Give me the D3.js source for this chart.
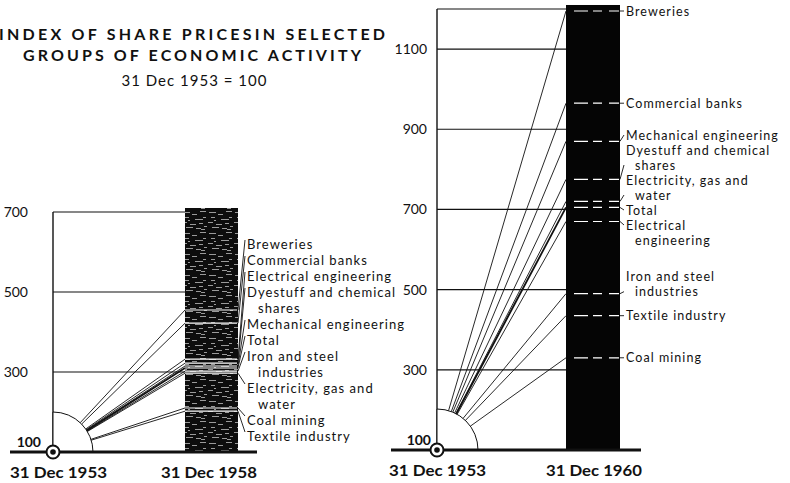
<!DOCTYPE html>
<html>
<head>
<meta charset="utf-8">
<script src="https://cdn.jsdelivr.net/npm/d3@7"></script>
<style>
  body { margin: 0; background: #fff; }
  svg text { font-family: Lato, "DejaVu Sans", sans-serif; fill: #111; }
</style>
</head>
<body>
<svg id="chart" width="790" height="483"></svg>
<script>
// index values, 31 Dec 1953 = 100
const categories = ["Breweries", "Commercial banks", "Electrical engineering",
  "Dyestuff and chemical shares", "Mechanical engineering", "Total",
  "Iron and steel industries", "Electricity, gas and water", "Coal mining", "Textile industry"];
const values1958 = [455, 422, 332, 322, 315, 310, 302, 297, 210, 202];
const values1960 = [1195, 965, 670, 775, 870, 705, 490, 720, 330, 435];

// how the labels are broken into lines in each panel
const labels1958 = [["Breweries"], ["Commercial banks"], ["Electrical engineering"],
  ["Dyestuff and chemical", "shares"], ["Mechanical engineering"], ["Total"],
  ["Iron and steel", "industries"], ["Electricity, gas and", "water"], ["Coal mining"], ["Textile industry"]];
const labels1960 = [["Breweries"], ["Commercial banks"], ["Electrical", "engineering"],
  ["Dyestuff and chemical", "shares"], ["Mechanical engineering"], ["Total"],
  ["Iron and steel", "industries"], ["Electricity, gas and", "water"], ["Coal mining"], ["Textile industry"]];

const grid1958 = [300, 500, 700];
const grid1960 = [300, 500, 700, 900, 1100, 1200];
const tickLabels1958 = ["300", "500", "700"];
const tickLabels1960 = ["300", "500", "700", "900", "1100", ""];

const svg = d3.select("#chart");
const defs = svg.append("defs");

// speckled halftone look of the 1958 bar
let pat = defs.append("pattern").attr("id", "speckle")
  .attr("patternUnits", "userSpaceOnUse").attr("width", 26).attr("height", 21);
pat.append("rect").attr("width", 26).attr("height", 21).attr("fill", "#0d0d0d");
[[1,2,7],[10,4,5],[18,1,6],[3,7,4],[13,9,8],[21,7,3],[0,12,5],[8,14,6],
 [17,13,4],[4,17,7],[14,18,5],[22,16,3],[6,10,2],[19,19,4]].forEach(s => {
  pat.append("line").attr("x1", s[0]).attr("x2", s[0] + s[2])
    .attr("y1", s[1] + 0.5).attr("y2", s[1] + 0.5)
    .attr("stroke", "#9a9a9a").attr("stroke-width", 1);
});

function panel(o) {
  const x = d3.scaleLinear().domain([1953, o.year]).range([o.axisX, o.barX]);
  const y = d3.scaleLinear().domain([100, o.topVal]).range([o.baseY, o.topY]);
  const g = svg.append("g");
  const ox = x(1953), oy = y(100);

  // gridlines
  g.selectAll(".grid").data(o.grid).join("line")
    .attr("x1", ox).attr("x2", x(o.year))
    .attr("y1", d => y(d)).attr("y2", d => y(d))
    .attr("stroke", "#111").attr("stroke-width", 1.2);
  // vertical axis
  g.append("line").attr("x1", ox).attr("x2", ox)
    .attr("y1", oy).attr("y2", y(d3.max(o.grid)))
    .attr("stroke", "#111").attr("stroke-width", 1.4);
  // tick labels
  g.selectAll(".tick").data(o.grid).join("text")
    .attr("x", o.tickX).attr("y", d => y(d) + 5)
    .attr("text-anchor", "end").attr("font-size", 14)
    .text((d, i) => o.tickLabels[i]);
  g.append("text").attr("x", o.hundredX).attr("y", oy - 5)
    .attr("text-anchor", "end").attr("font-size", 14).attr("font-weight", "bold")
    .text("100");

  // the bar
  g.append("rect").attr("x", x(o.year)).attr("width", o.barW)
    .attr("y", y(o.barTop)).attr("height", oy - y(o.barTop))
    .attr("fill", o.fill);
  // level marks inside the bar
  g.selectAll(".lvl").data(o.values).join("line")
    .attr("x1", x(o.year) + o.markInset).attr("x2", x(o.year) + o.barW - 1)
    .attr("y1", d => y(d)).attr("y2", d => y(d))
    .attr("stroke", "#fff").attr("stroke-width", 1.2)
    .attr("stroke-dasharray", o.markDash);

  // quarter circle round the origin
  const arc = d3.arc()({ innerRadius: 0, outerRadius: o.r, startAngle: 0, endAngle: Math.PI / 2 });
  g.append("path").attr("d", arc).attr("transform", `translate(${ox},${oy})`)
    .attr("fill", "#fff").attr("stroke", "#111").attr("stroke-width", 1);

  // series lines from the arc to the bar
  g.selectAll(".ser").data(o.values).join("line")
    .each(function (d) {
      const ex = x(o.year), ey = y(d);
      const len = Math.hypot(ex - ox, ey - oy);
      d3.select(this)
        .attr("x1", ox + o.r * (ex - ox) / len).attr("y1", oy + o.r * (ey - oy) / len)
        .attr("x2", ex).attr("y2", ey);
    })
    .attr("stroke", "#111").attr("stroke-width", d => d === o.total ? 1.8 : 0.9);

  // base line
  g.append("line").attr("x1", o.baseX1).attr("x2", o.baseX2)
    .attr("y1", oy).attr("y2", oy).attr("stroke", "#111").attr("stroke-width", 3);
  // origin marker
  g.append("circle").attr("cx", ox).attr("cy", oy).attr("r", 6.5)
    .attr("fill", "#fff").attr("stroke", "#111").attr("stroke-width", 2);
  g.append("circle").attr("cx", ox).attr("cy", oy).attr("r", 2.8).attr("fill", "#111");

  // date labels
  g.append("text").attr("x", o.date1X).attr("y", oy + 26)
    .attr("font-size", 16).attr("font-weight", "bold")
    .attr("textLength", 97).attr("lengthAdjust", "spacingAndGlyphs")
    .text("31  Dec 1953");
  g.append("text").attr("x", o.date2X).attr("y", oy + 26)
    .attr("font-size", 16).attr("font-weight", "bold")
    .attr("textLength", 96).attr("lengthAdjust", "spacingAndGlyphs")
    .text("31  Dec " + o.year);

  return { x, y, g };
}

const lh = 16;

// ---------- left panel, 1958 ----------
const L = panel({
  year: 1958, values: values1958, total: values1958[5],
  axisX: 53, barX: 185, barW: 53, baseY: 452, topY: 212, topVal: 700, barTop: 710,
  grid: grid1958, tickLabels: tickLabels1958, tickX: 28, hundredX: 41,
  fill: "url(#speckle)", markInset: 0, markDash: null, r: 40,
  baseX1: 10, baseX2: 257, date1X: 10, date2X: 161
});
// labels stacked one under another, with leaders to the bar
let lineY = 249;
labels1958.forEach((lines, i) => {
  const ly = lineY;
  lines.forEach((t, j) => {
    L.g.append("text").attr("x", 247 + (j ? 11 : 0)).attr("y", lineY)
      .attr("font-size", 13).attr("letter-spacing", 1.05).text(t);
    lineY += lh;
  });
  L.g.append("line")
    .attr("x1", L.x(1958) + 53).attr("y1", L.y(values1958[i]))
    .attr("x2", 245).attr("y2", ly - 9)
    .attr("stroke", "#111").attr("stroke-width", 0.9);
});

// ---------- right panel, 1960 ----------
const R = panel({
  year: 1960, values: values1960, total: values1960[5],
  axisX: 437, barX: 566, barW: 54, baseY: 450, topY: 9, topVal: 1200, barTop: 1210,
  grid: grid1960, tickLabels: tickLabels1960, tickX: 427, hundredX: 431,
  fill: "#050505", markInset: 8, markDash: "14,5,9,7", r: 41,
  baseX1: 391, baseX2: 641, date1X: 389, date2X: 546
});
// labels next to their level; labels that would collide are gathered into
// one block centred on their wished positions
const rlh = 15;
const order = d3.range(categories.length).sort((a, b) => values1960[b] - values1960[a]);
let blocks = order.map(i => {
  const n = labels1960[i].length;
  const vy = R.y(values1960[i]);
  return { items: [{ i, n, want: vy - (n > 1 ? 2 : 0) - (n - 1) * rlh }], lines: n };
});
function place(b) {
  let off = 0;
  const d = b.items.map(it => { const v = it.want - off; it.off = off; off += it.n * rlh; return v; });
  b.start = d3.mean(d);
}
blocks.forEach(place);
let merged = true;
while (merged) {
  merged = false;
  for (let k = 0; k < blocks.length - 1; k++) {
    const a = blocks[k], b = blocks[k + 1];
    if (a.start + a.lines * rlh > b.start) {
      a.items = a.items.concat(b.items); a.lines += b.lines;
      place(a); blocks.splice(k + 1, 1); merged = true; break;
    }
  }
}
blocks.forEach(b => b.items.forEach(it => {
  const first = b.start + it.off;
  const last = first + (it.n - 1) * rlh;
  const vy = R.y(values1960[it.i]);
  labels1960[it.i].forEach((t, j) => {
    R.g.append("text").attr("x", 626 + (j ? 9 : 0)).attr("y", first + j * rlh + 4.5)
      .attr("font-size", 12.5).attr("letter-spacing", 1.05).text(t);
  });
  R.g.append("line")
    .attr("x1", R.x(1960) + 54).attr("y1", vy)
    .attr("x2", 624).attr("y2", Math.abs(vy - last) < Math.abs(vy - first) ? last : first)
    .attr("stroke", "#111").attr("stroke-width", 0.9);
}));

// ---------- title ----------
svg.append("text").attr("x", 192).attr("y", 40).attr("text-anchor", "middle")
  .attr("font-size", 16).attr("font-weight", "bold")
  .attr("textLength", 386).attr("lengthAdjust", "spacing")
  .text("INDEX OF SHARE PRICESIN SELECTED");
svg.append("text").attr("x", 192).attr("y", 61).attr("text-anchor", "middle")
  .attr("font-size", 16).attr("font-weight", "bold")
  .attr("textLength", 338).attr("lengthAdjust", "spacing")
  .text("GROUPS OF ECONOMIC ACTIVITY");
svg.append("text").attr("x", 194).attr("y", 86).attr("text-anchor", "middle")
  .attr("font-size", 15)
  .attr("textLength", 145).attr("lengthAdjust", "spacing")
  .text("31  Dec 1953 = 100");
</script>
</body>
</html>
